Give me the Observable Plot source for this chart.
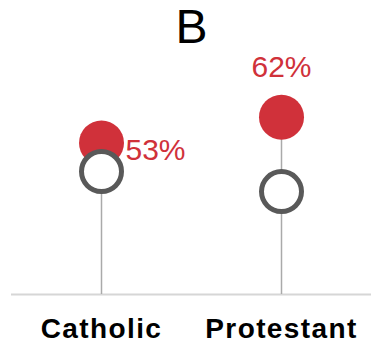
<!DOCTYPE html>
<html>
<head>
<meta charset="utf-8">
<script src="https://cdn.jsdelivr.net/npm/d3@7"></script>
<script src="https://cdn.jsdelivr.net/npm/@observablehq/plot@0.6"></script>
<style>
  html, body { margin: 0; padding: 0; background: #fff; }
  svg { display: block; overflow: visible; }
  g[aria-label="x-axis tick label"] text { letter-spacing: 1.4px; }
</style>
</head>
<body>
<div id="chart"></div>
<script>
const title = "B";
const categories = ["Catholic", "Protestant"];
const highlighted = [53, 62];   // red filled dots
const comparison = [43, 36];    // gray open circles

const data = categories.map((c, i) => ({ category: c, red: highlighted[i], gray: comparison[i], label: highlighted[i] + "%" }));

const red = "#d0313a";
const font = "Liberation Sans, Arial, Helvetica, sans-serif";

const chart = Plot.plot({
  width: 371,
  height: 344,
  marginLeft: 11,
  marginRight: 0,
  marginTop: 8,
  marginBottom: 50,
  style: { fontFamily: font, background: "#fff" },
  x: { type: "point", domain: categories, padding: 0.5, label: null },
  y: { domain: [0, 100], axis: null },
  marks: [
    Plot.ruleY([0], { stroke: "#d6d6d6", strokeWidth: 2 }),
    Plot.ruleX(data, { x: "category", y1: 0, y2: "red", stroke: "#aaaaaa", strokeWidth: 1.5 }),
    Plot.dot(data, { x: "category", y: "red", r: 22.5, fill: red, stroke: "none" }),
    Plot.dot(data, { x: "category", y: "gray", r: 20, fill: "#fff", stroke: "#595959", strokeWidth: 5 }),
    Plot.text(data.filter(d => d.category === "Catholic"), { x: "category", y: "red", text: "label", fill: red, fontSize: 30, textAnchor: "start", dx: 24, dy: 7 }),
    Plot.text(data.filter(d => d.category === "Protestant"), { x: "category", y: "red", text: "label", fill: red, fontSize: 30, dy: -50 }),
    Plot.text([title], { frameAnchor: "top", lineAnchor: "top", fontSize: 48, fill: "#000" }),
    Plot.axisX({ tickSize: 0, tickPadding: 24, fontSize: 28, fontWeight: "bold", fill: "#000", label: null })
  ]
});
document.getElementById("chart").appendChild(chart);
</script>
</body>
</html>
